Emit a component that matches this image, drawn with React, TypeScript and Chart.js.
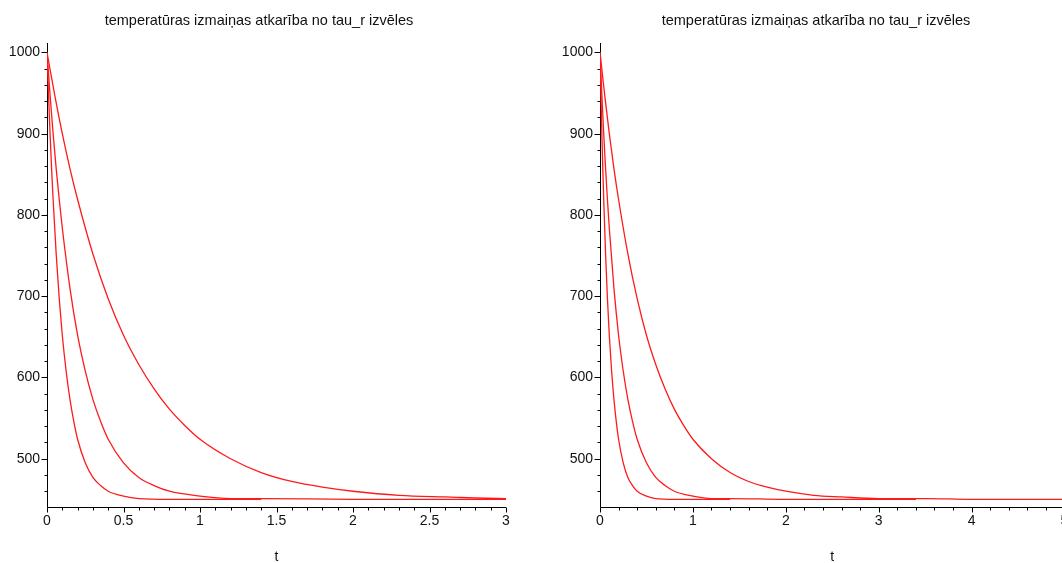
import React, { useEffect, useRef } from "react";
import { Chart, registerables } from "chart.js";

Chart.register(...registerables);

const TITLE = "temperatūras izmaiņas atkarība no tau_r izvēles";
const X_TITLE = "t";

const Y_TICKS = [500, 600, 700, 800, 900, 1000];
const LEFT_X_TICKS = [0, 0.5, 1, 1.5, 2, 2.5, 3];
const RIGHT_X_TICKS = [0, 1, 2, 3, 4, 5];

// fastest cooling curve
const T_A = [0, 0.01, 0.02, 0.03, 0.04, 0.06, 0.08, 0.1, 0.125, 0.15, 0.175, 0.2, 0.25, 0.3, 0.35, 0.4, 0.5, 0.6, 0.8, 1.0, 1.4];
const Y_A = [1000, 948, 900, 857, 819, 752, 697, 652, 608, 573, 546, 524, 495, 477, 467, 460, 454, 451, 450, 450, 450];

// middle curve
const T_B = [0, 0.02, 0.04, 0.06, 0.08, 0.1, 0.15, 0.2, 0.25, 0.3, 0.35, 0.4, 0.5, 0.6, 0.7, 0.8, 1.0, 1.2, 1.4, 2.0, 3.4];
const Y_B = [1000, 948, 900, 857, 819, 784, 710, 652, 608, 573, 546, 524, 495, 477, 467, 460, 454, 451, 451, 450, 450];

// slowest curve
const T_C = [0, 0.05, 0.1, 0.15, 0.2, 0.3, 0.4, 0.5, 0.6, 0.7, 0.8, 0.9, 1.0, 1.2, 1.4, 1.6, 1.8, 2.0, 2.3, 2.6, 3.0, 3.5, 4.0, 5.0];
const Y_C = [1000, 948, 900, 857, 819, 752, 697, 652, 616, 586, 561, 541, 524, 500, 483, 472, 465, 460, 455, 453, 451, 451, 450, 450];

const Y_MIN = 440.6;
const Y_MAX = 1011.6;
const Y_MINOR_STEP = 20;

const FONT = '"Liberation Sans", Arial, sans-serif';
const CANVAS_W = 531;
const CANVAS_H = 563;

type PanelSpec = {
  xMax: number;
  xTicks: number[];
  xMinorStep: number;
  plotRight: number;
  titleX: number;
};

const LEFT_PANEL: PanelSpec = { xMax: 3, xTicks: LEFT_X_TICKS, xMinorStep: 0.1, plotRight: 506, titleX: 259 };
const RIGHT_PANEL: PanelSpec = { xMax: 5, xTicks: RIGHT_X_TICKS, xMinorStep: 0.2, plotRight: 511.5, titleX: 263 };

function pts(t: number[], y: number[]) {
  return t.map((v, i) => ({ x: v, y: y[i] }));
}

function makePlugin(spec: PanelSpec) {
  return {
    id: "mapleAxes",
    beforeDatasetsDraw(chart: any) {
      const { ctx, chartArea, scales } = chart;
      const xs = scales.x;
      const ys = scales.y;
      const ax = Math.round(chartArea.left) + 0.5;
      const ay = Math.round(chartArea.bottom) + 0.5;
      ctx.save();
      ctx.strokeStyle = "#000";
      ctx.lineWidth = 1;
      ctx.beginPath();
      ctx.moveTo(ax, Math.round(chartArea.top));
      ctx.lineTo(ax, ay);
      ctx.lineTo(Math.round(chartArea.right), ay);
      for (let v = 460; v <= 1000 + 1e-6; v += Y_MINOR_STEP) {
        const major = Y_TICKS.includes(Math.round(v));
        const py = Math.round(ys.getPixelForValue(v)) + 0.5;
        ctx.moveTo(ax - (major ? 6 : 3), py);
        ctx.lineTo(ax, py);
      }
      const n = Math.round(spec.xMax / spec.xMinorStep);
      for (let i = 0; i <= n; i++) {
        const v = i * spec.xMinorStep;
        const major = spec.xTicks.some((t) => Math.abs(t - v) < 1e-6);
        const px = Math.round(xs.getPixelForValue(v)) + 0.5;
        ctx.moveTo(px, ay);
        ctx.lineTo(px, ay + (major ? 5 : 3));
      }
      ctx.stroke();
      ctx.restore();
    },
    afterDraw(chart: any) {
      const { ctx, chartArea } = chart;
      ctx.save();
      ctx.fillStyle = "#111";
      ctx.textAlign = "center";
      ctx.textBaseline = "middle";
      ctx.font = `14.5px ${FONT}`;
      ctx.fillText(TITLE, spec.titleX, 21);
      ctx.font = `14px ${FONT}`;
      ctx.fillText(X_TITLE, (chartArea.left + chartArea.right) / 2, 557);
      ctx.restore();
    },
  };
}

function makeConfig(spec: PanelSpec): any {
  const line = (data: { x: number; y: number }[]) => ({
    data,
    borderColor: "#ff1a1a",
    borderWidth: 1.3,
    pointRadius: 0,
    fill: false,
    cubicInterpolationMode: "monotone",
  });
  return {
    type: "line",
    data: {
      datasets: [line(pts(T_C, Y_C)), line(pts(T_B, Y_B)), line(pts(T_A, Y_A))],
    },
    options: {
      animation: false,
      responsive: false,
      events: [],
      layout: {
        padding: { top: 43, right: CANVAS_W - spec.plotRight, bottom: 0, left: 0 },
      },
      plugins: {
        legend: { display: false },
        title: { display: false },
        tooltip: { enabled: false },
      },
      scales: {
        x: {
          type: "linear",
          min: 0,
          max: spec.xMax,
          grid: { display: false, drawTicks: false },
          border: { display: false },
          afterBuildTicks: (axis: any) => {
            axis.ticks = spec.xTicks.map((v) => ({ value: v }));
          },
          afterFit: (axis: any) => {
            axis.height = CANVAS_H - 507;
          },
          ticks: {
            autoSkip: false,
            maxRotation: 0,
            padding: 6,
            color: "#111",
            font: { family: FONT, size: 14 },
            callback: (v: any) => String(v),
          },
        },
        y: {
          type: "linear",
          min: Y_MIN,
          max: Y_MAX,
          grid: { display: false, drawTicks: false },
          border: { display: false },
          afterBuildTicks: (axis: any) => {
            axis.ticks = Y_TICKS.map((v) => ({ value: v }));
          },
          afterFit: (axis: any) => {
            axis.width = 47;
          },
          ticks: {
            autoSkip: false,
            padding: 7,
            color: "#111",
            font: { family: FONT, size: 14 },
            callback: (v: any) => String(v),
          },
        },
      },
    },
    plugins: [makePlugin(spec)],
  };
}

function Panel({ spec, left }: { spec: PanelSpec; left: number }) {
  const ref = useRef<HTMLCanvasElement | null>(null);
  useEffect(() => {
    if (!ref.current) return;
    const chart = new Chart(ref.current, makeConfig(spec));
    return () => chart.destroy();
  }, [spec]);
  return (
    <canvas
      ref={ref}
      width={CANVAS_W}
      height={CANVAS_H}
      style={{ position: "absolute", left, top: 0, width: CANVAS_W, height: CANVAS_H }}
    />
  );
}

export default function App() {
  return (
    <div
      style={{
        position: "fixed",
        left: 0,
        top: 0,
        width: 1062,
        height: 563,
        overflow: "hidden",
        background: "#fff",
      }}
    >
      <Panel spec={LEFT_PANEL} left={0} />
      <Panel spec={RIGHT_PANEL} left={553} />
    </div>
  );
}
